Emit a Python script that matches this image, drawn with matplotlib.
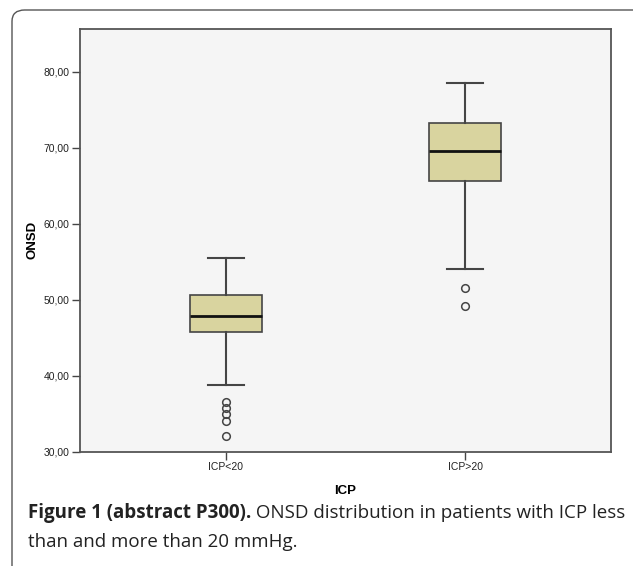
import matplotlib
matplotlib.use("Agg")
import matplotlib.pyplot as plt
from matplotlib.patches import FancyBboxPatch

# ---- data ----
categories = ["ICP<20", "ICP>20"]
whisker_low = [38.8, 54.0]
q1 = [45.8, 65.6]
median = [47.8, 69.6]
q3 = [50.6, 73.3]
whisker_high = [55.5, 78.5]
outliers = [[36.6, 35.8, 34.9, 34.0, 32.0], [51.5, 49.1]]
yticks = [30, 40, 50, 60, 70, 80]

W, H = 633, 566
DPI = 100
fig = plt.figure(figsize=(W / DPI, H / DPI), dpi=DPI)
fig.patch.set_facecolor("white")

# outer rounded frame
frame = FancyBboxPatch((12 / W, -0.1), 1.2, 1.1 - 10 / H,
                       boxstyle="round,pad=0,rounding_size=0.02",
                       transform=fig.transFigure, fill=False,
                       edgecolor="#555555", linewidth=1.0)
fig.patches.append(frame)

left, right, top, bottom = 80, 611, 29, 451.7
ax = fig.add_axes([left / W, 1 - bottom / H, (right - left) / W, (bottom - top) / H])
ax.set_facecolor("#f5f5f5")

stats = []
for i, c in enumerate(categories):
    stats.append(dict(label=c, whislo=whisker_low[i], q1=q1[i], med=median[i],
                      q3=q3[i], whishi=whisker_high[i], fliers=outliers[i]))

edge = "#454545"
ax.bxp(stats, positions=[1, 2], widths=0.30, patch_artist=True,
       boxprops=dict(facecolor="#d9d49f", edgecolor=edge, linewidth=1.2),
       medianprops=dict(color="#111111", linewidth=2.0),
       whiskerprops=dict(color=edge, linewidth=1.5),
       capprops=dict(color=edge, linewidth=1.5),
       capwidths=0.15,
       flierprops=dict(marker="o", markersize=5.5, markerfacecolor="none",
                       markeredgecolor=edge, markeredgewidth=1.1))

ax.set_xlim(0.39, 2.61)
ax.set_ylim(30, 85.6)
ax.set_yticks(yticks)
ax.set_yticklabels([f"{v:.2f}".replace(".", ",") for v in yticks],
                   fontsize=7.5, family="Liberation Sans", color="#222222")
ax.set_xticks([1, 2])
ax.set_xticklabels(categories, fontsize=7.5, family="Liberation Sans", color="#222222")
ax.tick_params(axis="both", direction="out", length=6, width=1.0, color=edge, pad=1.5)

for s in ax.spines.values():
    s.set_color("#555555")
    s.set_linewidth(1.3)

ax.set_ylabel("ONSD", fontsize=9.5, fontweight="bold", family="Liberation Sans", labelpad=4)
ax.set_xlabel("ICP", fontsize=9.5, fontweight="bold", family="Liberation Sans", labelpad=9)

# caption
cap_size = 13.5
t1 = fig.text(28 / W, 1 - 513 / H, "Figure 1 (abstract P300).", fontsize=cap_size,
              fontweight="bold", family="Open Sans", va="center", ha="left", color="#222222")
ax.annotate(" ONSD distribution in patients with ICP less", xy=(1, 0.5),
            xycoords=t1, va="center", ha="left", fontsize=cap_size,
            family="Open Sans", color="#222222", annotation_clip=False)
fig.text(28 / W, 1 - 542 / H, "than and more than 20 mmHg.", fontsize=cap_size,
         family="Open Sans", va="center", ha="left", color="#222222")

fig.savefig("out.png", dpi=DPI)
